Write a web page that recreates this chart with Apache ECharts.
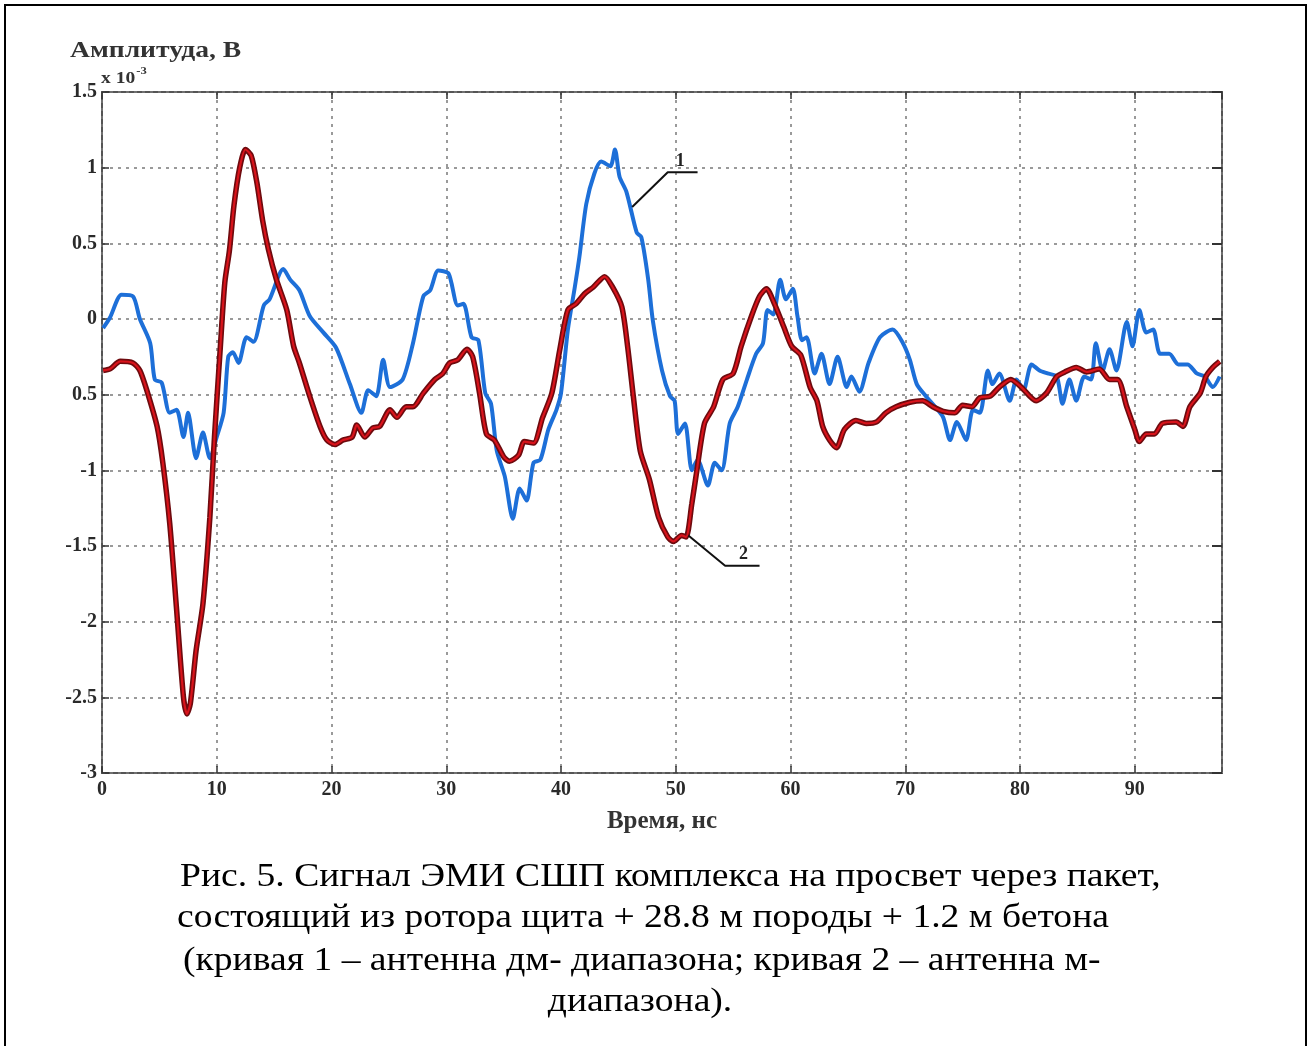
<!DOCTYPE html>
<html>
<head>
<meta charset="utf-8">
<script src="https://cdn.jsdelivr.net/npm/echarts@6/dist/echarts.min.js"></script>
<style>
  html, body { margin: 0; padding: 0; background: #fff; }
  #chart { width: 1312px; height: 1046px; }
</style>
</head>
<body>
<div id="chart"></div>
<script>
// Curve 1 (decimetre-band antenna): time, ns / amplitude, x10^-3 V
const curve1Time = [0.1,0.7,1.7,2.7,3.3,4.2,4.6,5.2,5.9,6.5,7.1,7.5,8.2,8.8,9.4,10.0,10.6,11.0,11.4,11.9,12.6,13.2,14.1,14.6,15.8,16.4,17.2,18.1,19.3,20.4,21.6,22.6,23.2,23.9,24.5,25.1,26.2,27.1,28.0,28.6,29.3,30.2,31.0,31.5,32.2,32.8,33.4,33.9,34.4,35.1,35.8,36.4,37.0,37.6,38.2,38.9,39.6,40.0,40.6,41.2,41.6,42.2,42.9,43.5,44.3,44.7,45.1,45.7,46.6,47.0,47.6,48.0,48.8,49.5,49.9,50.2,50.8,51.4,51.9,52.8,53.4,54.0,54.7,55.4,56.2,57.0,57.6,58.0,58.5,59.1,59.6,60.2,60.6,61.0,61.4,62.1,62.7,63.4,64.1,64.9,65.3,66.0,66.8,67.8,68.9,69.8,70.4,71.0,71.8,72.6,73.3,73.9,74.5,75.3,75.9,76.5,77.2,77.6,78.2,79.1,79.7,80.3,81.0,81.7,82.4,83.2,83.7,84.3,84.9,85.6,86.2,86.6,87.2,87.8,88.4,89.3,89.8,90.4,91.0,91.6,92.2,93.0,93.8,94.6,95.4,96.1,96.8,97.4];
const curve1Amp  = [-0.06,0.01,0.16,0.15,0.0,-0.16,-0.40,-0.42,-0.62,-0.60,-0.78,-0.62,-0.92,-0.75,-0.92,-0.78,-0.62,-0.25,-0.22,-0.29,-0.12,-0.15,0.09,0.13,0.33,0.26,0.19,0.02,-0.09,-0.19,-0.43,-0.62,-0.47,-0.51,-0.27,-0.45,-0.40,-0.16,0.15,0.19,0.32,0.30,0.09,0.10,-0.12,-0.14,-0.49,-0.56,-0.87,-1.04,-1.32,-1.12,-1.20,-0.95,-0.93,-0.73,-0.60,-0.49,-0.07,0.21,0.41,0.76,0.96,1.04,1.01,1.12,0.94,0.84,0.57,0.54,0.26,-0.01,-0.34,-0.51,-0.54,-0.76,-0.69,-1.00,-0.93,-1.10,-0.95,-1.00,-0.69,-0.58,-0.40,-0.23,-0.16,0.06,0.03,0.26,0.13,0.20,0.02,-0.14,-0.12,-0.36,-0.23,-0.43,-0.25,-0.45,-0.38,-0.48,-0.29,-0.12,-0.07,-0.16,-0.27,-0.43,-0.51,-0.58,-0.65,-0.80,-0.68,-0.80,-0.60,-0.62,-0.34,-0.43,-0.36,-0.54,-0.40,-0.47,-0.30,-0.34,-0.36,-0.38,-0.56,-0.40,-0.54,-0.38,-0.40,-0.16,-0.34,-0.20,-0.34,-0.02,-0.18,0.06,-0.09,-0.07,-0.23,-0.23,-0.30,-0.30,-0.36,-0.38,-0.45,-0.38];

// Curve 2 (metre-band antenna)
const curve2Time = [0.1,0.7,1.6,2.7,3.3,3.9,4.8,5.3,5.9,6.5,7.1,7.4,7.7,8.2,8.8,9.4,9.8,10.3,10.7,11.1,11.5,12.0,12.5,13.0,13.5,14.0,14.5,15.2,16.1,16.7,17.2,18.1,19.0,19.6,20.3,21.0,21.8,22.2,22.9,23.6,24.2,25.1,25.7,26.5,27.1,28.0,29.0,29.7,30.3,31.0,31.8,32.3,32.9,33.5,34.2,35.0,35.5,36.3,36.8,37.6,38.4,39.2,39.9,40.6,41.3,42.1,42.8,43.8,44.5,45.3,45.8,46.3,46.9,47.7,48.5,49.3,49.8,50.5,50.9,51.4,51.8,52.5,53.3,54.1,55.0,55.7,56.6,57.3,57.9,58.6,59.4,60.1,60.9,61.7,62.3,62.8,63.4,64.0,64.7,65.7,66.6,67.5,68.3,69.2,70.4,71.5,72.4,73.3,74.3,75.0,75.8,76.5,77.4,78.2,79.2,80.1,81.4,82.3,83.2,83.9,84.9,85.8,86.9,87.8,88.5,89.3,90.0,90.4,91.0,91.7,92.4,93.6,94.2,94.8,95.7,96.2,96.8,97.4];
const curve2Amp  = [-0.34,-0.33,-0.28,-0.29,-0.34,-0.47,-0.71,-0.95,-1.35,-1.92,-2.50,-2.61,-2.54,-2.19,-1.88,-1.31,-0.78,-0.20,0.24,0.45,0.75,1.00,1.12,1.08,0.90,0.65,0.46,0.26,0.06,-0.18,-0.29,-0.51,-0.71,-0.80,-0.83,-0.80,-0.78,-0.70,-0.78,-0.72,-0.71,-0.60,-0.65,-0.58,-0.58,-0.49,-0.40,-0.36,-0.29,-0.27,-0.20,-0.25,-0.49,-0.76,-0.80,-0.91,-0.94,-0.90,-0.81,-0.82,-0.65,-0.49,-0.20,0.06,0.10,0.17,0.21,0.28,0.21,0.08,-0.18,-0.51,-0.87,-1.06,-1.31,-1.44,-1.47,-1.43,-1.44,-1.22,-1.02,-0.69,-0.58,-0.40,-0.36,-0.18,0.02,0.15,0.20,0.10,-0.05,-0.18,-0.24,-0.45,-0.54,-0.71,-0.80,-0.85,-0.73,-0.67,-0.69,-0.68,-0.62,-0.58,-0.55,-0.54,-0.58,-0.61,-0.62,-0.57,-0.58,-0.52,-0.51,-0.45,-0.40,-0.45,-0.54,-0.49,-0.38,-0.35,-0.32,-0.35,-0.33,-0.40,-0.40,-0.58,-0.73,-0.81,-0.76,-0.76,-0.69,-0.68,-0.71,-0.58,-0.49,-0.38,-0.32,-0.28];

// Axis ranges and tick labels
const timeTicks = [0,10,20,30,40,50,60,70,80,90];
const ampTickValues = [-3,-2.5,-2,-1.5,-1,-0.5,0,0.5,1,1.5];
const ampTickLabels = ['-3','-2.5','-2','-1.5','-1','0.5','0','0.5','1','1.5'];

// Callout leaders for the curve numbers: [time, amplitude] anchors
const callout1 = [[46.2,0.74],[49.3,0.97],[51.9,0.97]];
const callout1Label = [50.4,0.97];
const callout2 = [[51.1,-1.43],[54.3,-1.63],[57.3,-1.63]];
const callout2Label = [55.9,-1.63];

const captionLines = [
  'Рис. 5. Сигнал ЭМИ СШП комплекса на просвет через пакет,',
  'состоящий из ротора щита + 28.8 м породы + 1.2 м бетона',
  '(кривая 1 – антенна дм- диапазона; кривая 2 – антенна м-',
  'диапазона).'
];

const pair = (xs, ys) => xs.map((x, i) => [x, ys[i]]);
const serif = '"Liberation Serif", "Times New Roman", serif';

const chart = echarts.init(document.getElementById('chart'), null, { renderer: 'canvas' });

const gridLine = { show: true, lineStyle: { color: '#7a7a7a', width: 1.5, type: [3, 5] } };
const tickLabelStyle = { fontFamily: serif, fontWeight: 'bold', fontSize: 20, color: '#2a2a2a' };
const innerTick = { show: true, inside: true, length: 7, lineStyle: { color: '#333', width: 1.5 } };

// Caption line: wide serif set at a fixed horizontal stretch
const captionText = (text, x, y, align) => ({
  type: 'text', x: x, y: y, scaleX: 1.14, silent: true,
  style: { text: text, fontFamily: serif, fontSize: 33, fill: '#000', textAlign: align || 'left', textVerticalAlign: 'middle' }
});

chart.setOption({
  backgroundColor: '#fff',
  animation: false,
  grid: { left: 102, top: 92, width: 1120, height: 681, show: true, borderColor: '#555', borderWidth: 2, backgroundColor: 'transparent' },
  xAxis: [{
    type: 'value', min: 0, max: 97.6, interval: 10,
    axisLine: { show: false, onZero: false },
    axisTick: innerTick,
    axisLabel: { ...tickLabelStyle, margin: 7, showMaxLabel: false,
      formatter: v => timeTicks.includes(v) ? String(v) : '' },
    splitLine: gridLine,
    name: 'Время, нс', nameLocation: 'middle', nameGap: 36,
    nameTextStyle: { fontFamily: serif, fontWeight: 'bold', fontSize: 25, color: '#333' }
  }, {
    type: 'value', position: 'top', min: 0, max: 97.6, interval: 10,
    axisLine: { show: false, onZero: false }, axisLabel: { show: false }, splitLine: { show: false },
    axisTick: innerTick
  }],
  yAxis: [{
    type: 'value', min: -3, max: 1.5, interval: 0.5,
    axisLine: { show: false, onZero: false },
    axisTick: innerTick,
    axisLabel: { ...tickLabelStyle, margin: 5,
      formatter: v => { const i = ampTickValues.findIndex(t => Math.abs(t - v) < 1e-6); return i >= 0 ? ampTickLabels[i] : ''; } },
    splitLine: gridLine
  }, {
    type: 'value', position: 'right', min: -3, max: 1.5, interval: 0.5,
    axisLine: { show: false, onZero: false }, axisLabel: { show: false }, splitLine: { show: false },
    axisTick: { show: true, inside: true, length: 10, lineStyle: { color: '#333', width: 2 } }
  }],
  series: [
    {
      name: 'кривая 1', type: 'line', data: pair(curve1Time, curve1Amp),
      showSymbol: false, smooth: 0.25,
      lineStyle: { color: '#1d6fd8', width: 4 }, z: 3
    },
    {
      name: 'кривая 2 контур', type: 'line', data: pair(curve2Time, curve2Amp),
      showSymbol: false, smooth: 0.25, silent: true,
      lineStyle: { color: '#6e0a0e', width: 5.5 }, z: 4
    },
    {
      name: 'кривая 2', type: 'line', data: pair(curve2Time, curve2Amp),
      showSymbol: false, smooth: 0.25,
      lineStyle: { color: '#d8131b', width: 2.2 }, z: 5
    },
    {
      name: 'выноска 1', type: 'line', data: callout1, showSymbol: false, silent: true,
      lineStyle: { color: '#111', width: 2 }, z: 6,
      markPoint: { symbol: 'circle', symbolSize: 0, silent: true,
        data: [{ coord: callout1Label, label: { show: true, formatter: '1', position: 'top', distance: 2,
          fontFamily: serif, fontWeight: 'bold', fontSize: 18, color: '#222' } }] }
    },
    {
      name: 'выноска 2', type: 'line', data: callout2, showSymbol: false, silent: true,
      lineStyle: { color: '#111', width: 2 }, z: 6,
      markPoint: { symbol: 'circle', symbolSize: 0, silent: true,
        data: [{ coord: callout2Label, label: { show: true, formatter: '2', position: 'top', distance: 2,
          fontFamily: serif, fontWeight: 'bold', fontSize: 18, color: '#222' } }] }
    }
  ],
  graphic: [
    { type: 'rect', shape: { x: 5, y: 5, width: 1301, height: 1060 }, style: { fill: 'none', stroke: '#000', lineWidth: 2 }, silent: true },
    { type: 'text', x: 70, y: 51, scaleX: 1.2, silent: true,
      style: { text: 'Амплитуда, В', fontFamily: serif, fontWeight: 'bold', fontSize: 23, fill: '#333', textVerticalAlign: 'middle' } },
    { type: 'text', x: 101, y: 66, scaleX: 1.15, silent: true, style: {
        text: '{b|x 10}{s|-3}', rich: {
          b: { fontFamily: serif, fontWeight: 'bold', fontSize: 17, fill: '#333', verticalAlign: 'bottom' },
          s: { fontFamily: serif, fontWeight: 'bold', fontSize: 11, fill: '#333', verticalAlign: 'top', padding: [0, 0, 10, 1] } } } },
    captionText(captionLines[0], 180, 877),
    captionText(captionLines[1], 177, 918),
    captionText(captionLines[2], 183, 961),
    captionText(captionLines[3], 640, 1002, 'center')
  ]
});
</script>
</body>
</html>
